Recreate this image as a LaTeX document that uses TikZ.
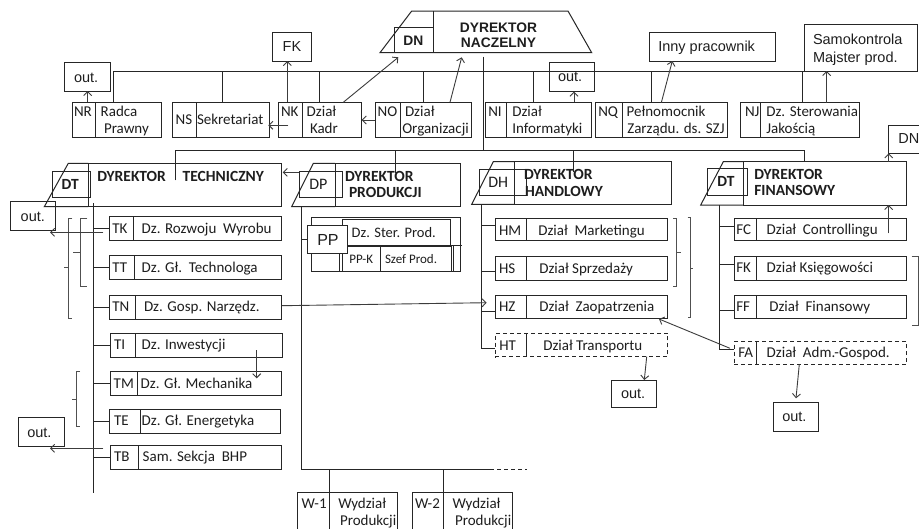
\documentclass[tikz,border=0pt]{standalone}
\usepackage{fontspec}
\setmainfont{Carlito}
\newfontfamily\arialf{Liberation Sans}
\usetikzlibrary{arrows.meta,calc}
\definecolor{linec}{HTML}{262626}
\definecolor{arrc}{HTML}{3C3C3C}
\definecolor{brkc}{HTML}{505050}
\definecolor{txtc}{HTML}{1E1E1E}
\tikzset{
  ln/.style={draw=linec, line width=1pt},
  brk/.style={draw=brkc, line width=0.8pt},
  bx/.style={draw=linec, line width=1pt, rectangle, inner sep=0pt, outer sep=0pt},
  dbx/.style={bx, dash pattern=on 4pt off 3pt},
  wbx/.style={bx, fill=white},
  arr/.style={draw=arrc, line width=0.9pt, -{Straight Barb[length=4pt,width=8pt]}},
  tx/.style={inner sep=0pt, outer sep=0pt, anchor=base west, text=txtc, font=\fontsize{15}{17}\selectfont},
  txm/.style={tx, font=\fontsize{14.5}{17}\selectfont},
  txs/.style={tx, font=\fontsize{13}{15}\selectfont},
  txb/.style={tx, font=\bfseries\fontsize{15.5}{17}\selectfont},
  txd/.style={tx, font=\fontsize{16}{18}\selectfont},
  txa/.style={tx, font=\arialf\fontsize{14.5}{17}\selectfont},
  txp/.style={tx, font=\arialf\fontsize{16}{18}\selectfont},
  txab/.style={tx, font=\arialf\bfseries\fontsize{13.8}{16}\selectfont},
}
\newcommand\ubox[7][bx]{%
  \node[#1, anchor=north west, minimum width=#5pt-#3pt, minimum height=#6pt-#4pt] (#2) at (#3,#4) {};
  \draw[ln] (#7,#4) -- (#7,#6);}
\newcommand\obox[6][bx]{%
  \node[#1, anchor=north west, minimum width=#5pt-#3pt, minimum height=#6pt-#4pt] (#2) at (#3,#4) {};}
\newcommand\tl[5][tx]{\node[#1] (#2) at (#3,#4) {#5};}
\begin{document}
\begin{tikzpicture}[x=1pt,y=-1pt]
\useasboundingbox (0,0) rectangle (919,528);
\fill[white] (0,0) rectangle (919,528);

% ---- Dyrektor Naczelny
\draw[ln] (411.7,11) -- (568,11) -- (591.7,52.7) -- (380,52.7) -- cycle;
\draw[ln] (433.3,11) -- (433.3,52.7);
\obox{DNc}{394.3}{27.7}{433.3}{52.7}
\coordinate (DNbase) at (483.3,52.7);
\tl[txab]{dnct}{403.3}{45}{DN}
\tl[txab,anchor=base]{dna}{498.5}{32.3}{DYREKTOR}
\tl[txab,anchor=base]{dnb}{498.5}{47.7}{NACZELNY}

% ---- staff row
\ubox{NR}{72}{102.3}{161.7}{137.7}{95.7}
\ubox{NS}{172.7}{102.3}{269.3}{137.7}{196}
\ubox{NK}{278.3}{102.3}{361.7}{137.7}{302.3}
\ubox{NO}{375}{102.3}{471}{137.7}{400}
\ubox{NI}{485.7}{102.3}{591.7}{137.7}{506}
\ubox{NQ}{595.7}{102.7}{727.3}{137.7}{622.3}
\ubox{NJ}{740.7}{102.7}{859}{137.7}{760.7}
\obox{onr}{64.3}{62.7}{110}{91}
\obox{FKb}{272.3}{32.3}{311}{61}
\obox{oni}{549.7}{62.3}{594.7}{91.7}
\obox{inny}{649.7}{32.3}{775}{61}
\obox{samo}{804}{24.3}{917}{71}
\obox{DNr}{888.7}{125}{935}{153.3}

\draw[ln] ($(NR.north west)+(41,0)$) |- (samo.south west);
\draw[ln] ($(NS.north west)+(50,0)$) -- ++(0,-31.3);
\draw[ln] ($(NK.north west)+(41,0)$) -- ++(0,-31.3);
\draw[ln] ($(NO.north west)+(48.3,0)$) -- ++(0,-31.3);
\draw[ln] ($(NI.north west)+(47.6,0)$) -- ++(0,-31.3);
\draw[ln] ($(NQ.north west)+(55.6,0)$) -- ++(0,-31.7);
\draw[ln] ($(NJ.north west)+(61.6,0)$) -- ++(0,-31.7);

\tl{nrc}{74}{116}{NR}
\tl{nra}{100.7}{116}{Radca}
\tl{nrb}{104}{133.3}{Prawny}
\tl{nsc}{175.7}{124.3}{NS}
\tl{nsa}{197}{124.3}{Sekretariat}
\tl{nkc}{281}{116}{NK}
\tl{nka}{306.7}{116}{Dział}
\tl{nkb}{310}{133.3}{Kadr}
\tl{noc}{377.7}{116}{NO}
\tl{noa}{405}{116}{Dział}
\tl{nob}{402.3}{133.3}{Organizacji}
\tl{nic}{488.3}{116}{NI}
\tl{nia}{512.3}{116}{Dział}
\tl{nib}{512.3}{133.3}{Informatyki}
\tl{nqc}{598.3}{116}{NQ}
\tl{nqa}{626.7}{116}{Pełnomocnik}
\tl{nqb}{627.3}{133.3}{Zarządu. ds. SZJ}
\tl{njc}{745}{116}{NJ}
\tl{nja}{766.3}{116}{Dz. Sterowania}
\tl{njb}{766.3}{133.3}{Jakością}
\tl[txa]{onrt}{74}{82.7}{out.}
\tl[txa]{fkbt}{282.7}{51.7}{FK}
\tl[txa]{onit}{558}{81}{out.}
\tl[txa]{innyt}{658.3}{51}{Inny pracownik}
\tl[txa]{samoa}{813}{44.3}{Samokontrola}
\tl[txa]{samob}{813}{62.7}{Majster prod.}
\tl[txa]{dnrt}{898.3}{143.3}{DN}

% ---- directors
\obox{DTbody}{88.3}{163.3}{281.7}{206.7}
\draw[ln] (DTbody.north west) -- (68.3,163.3) -- (44.3,206.7) -- (DTbody.south west);
\obox{DTcode}{52.3}{171}{90}{197.7}
\obox{DPbody}{335}{163.3}{460}{206.7}
\draw[ln] (DPbody.north west) -- (313.3,163.3) -- (291.7,206.7) -- (DPbody.south west);
\obox{DPcode}{299}{171}{342.3}{197.7}
\obox{DHbody}{514.3}{161.7}{671.7}{204.3}
\draw[ln] (DHbody.north west) -- (493.3,161.7) -- (471.7,204.3) -- (DHbody.south west);
\obox{DHcode}{479}{169}{526.7}{195}
\obox{DFbody}{743.3}{161.7}{906.7}{205}
\draw[ln] (DFbody.north west) -- (723.3,161.7) -- (700.7,205) -- (DFbody.south west);
\obox{DFcode}{707.7}{168.3}{747.3}{195.7}

\coordinate (dbusL) at (175,150);
\draw[ln] ($(DNbase)+(0,4)$) -- (DNbase |- dbusL);
\draw[ln] ($(DTbody.north west)+(86.7,17)$) |- ($(DFbody.north west)+(60.7,-11.7)$) -- ($(DFbody.north west)+(60.7,0)$);
\draw[ln] ($(DPbody.north west)+(60,-13.3)$) -- ++(0,23.3);
\draw[ln] ($(DHbody.north west)+(59,-11.7)$) -- ++(0,21.7);

\tl[txb]{dtc}{61.7}{189.3}{DT}
\tl[txb]{dta}{97.3}{181.7}{DYREKTOR}
\tl[txb]{dtb}{182.7}{181.7}{TECHNICZNY}
\tl[txd]{dpc}{309.3}{189}{DP}
\tl[txb]{dpa}{345}{181.7}{DYREKTOR}
\tl[txb]{dpb}{349}{197.3}{PRODUKCJI}
\tl[txd]{dhc}{488.3}{187.3}{DH}
\tl[txb]{dha}{524}{179.3}{DYREKTOR}
\tl[txb]{dhb}{525}{196}{HANDLOWY}
\tl[txb]{dfc}{717.3}{186.7}{DT}
\tl[txb]{dfa}{754.3}{179.3}{DYREKTOR}
\tl[txb]{dfb}{754.3}{195.7}{FINANSOWY}

% ---- technical
\ubox{TK}{109.3}{216.7}{281.7}{240}{133.3}
\ubox{TT}{109.3}{255.7}{281.7}{279}{134.3}
\ubox{TN}{109.3}{295}{281.7}{319}{135}
\ubox{TI}{110}{333.3}{282.3}{357.3}{135.7}
\ubox{TM}{110}{371.7}{281.7}{395}{137.3}
\ubox{TE}{109}{409.3}{280}{433.3}{140}
\ubox{TB}{110}{445.7}{281.7}{469}{138.3}
\coordinate (Tend) at (93.3,493.3);
\draw[ln] ($(DTbody.south west)+(5,-3.4)$) -- (Tend);
\foreach \n in {TK,TT,TN,TI,TM,TE,TB} \draw[ln] (\n.west) -- (\n.west -| Tend);
\obox{outA}{10}{201.7}{55}{230.7}
\obox{outB}{18.3}{417.7}{64}{446.7}

\tl{tkc}{112.3}{233.3}{TK}
\tl{tkt}{141.7}{233.3}{Dz. Rozwoju\ \ Wyrobu}
\tl{ttc}{112.3}{272.3}{TT}
\tl{ttt}{141.7}{272.3}{Dz. Gł.\ \ Technologa}
\tl{tnc}{112.3}{311}{TN}
\tl{tnt}{144}{311}{Dz. Gosp. Narzędz.}
\tl{tic}{114}{349.3}{TI}
\tl{tit}{141.7}{349.3}{Dz. Inwestycji}
\tl{tmc}{113.7}{388.3}{TM}
\tl{tmt}{140.7}{388.3}{Dz. Gł. Mechanika}
\tl{tec}{114}{425.7}{TE}
\tl{tet}{141.7}{425.7}{Dz. Gł. Energetyka}
\tl{tbc}{114}{461.7}{TB}
\tl{tbt}{142.7}{461.7}{Sam. Sekcja\ \ BHP}
\tl[txa]{outAt}{20.7}{221}{out.}
\tl[txa]{outBt}{27.3}{437.3}{out.}

% ---- production
\obox{PPg}{311}{217.3}{460.3}{271.7}
\obox{PPs}{342.3}{219.3}{450}{246.7}
\obox{PPk}{342.3}{246.7}{380}{271.7}
\obox{PPf}{380}{246.7}{451.7}{271.7}
\draw[ln] (339,245) -- (461.7,245);
\draw[ln] (339,245) -- (339,271.7);
\draw[ln] (453.5,245) -- (453.5,271.7);
\obox[wbx]{PP}{307.3}{225}{347.3}{253.3}
\coordinate (DPtop) at ($(DPbody.south west)+(-33.3,0)$);
\coordinate (Wsol) at (490,469);
\draw[ln] (DPtop) |- (Wsol);
\draw[ln, dash pattern=on 4pt off 3pt] (Wsol) -- ++(37,0);
\draw[ln] (PP.west -| DPtop) -- (PP.west);
\ubox{Wa}{297.7}{492.7}{397.7}{540}{329}
\ubox{Wb}{412.7}{492.7}{512.3}{540}{443.3}
\draw[ln] ($(Wa.north west)+(31.3,0)$) -- ++(0,-23.7);
\draw[ln] ($(Wb.north west)+(30.6,0)$) -- ++(0,-23.7);

\tl[txp]{ppt}{317.3}{245}{PP}
\tl[txm]{ppst}{351.7}{237.7}{Dz. Ster. Prod.}
\tl[txs]{ppkt}{349.3}{263.3}{PP-K}
\tl[txs]{ppft}{385}{263.3}{Szef Prod.}
\tl{w1c}{301.7}{508.3}{W-1}
\tl{w1a}{338.3}{508.3}{Wydział}
\tl{w1b}{340}{525.3}{Produkcji}
\tl{w2c}{415}{508.3}{W-2}
\tl{w2a}{452.7}{508.3}{Wydział}
\tl{w2b}{455}{525.3}{Produkcji}

% ---- commercial
\ubox{HM}{495}{218.3}{667.7}{240.7}{526}
\ubox{HS}{495}{256.3}{667.7}{280}{526}
\ubox{HZ}{495}{295.3}{667.7}{318.3}{526}
\ubox[dbx]{HT}{495}{333.3}{667.7}{356.7}{526}
\draw[ln] ($(DHbody.south west)+(-33.3,0)$) |- ($(HT.west)+(0,3)$);
\draw[ln] ($(HM.west)+(0,-4.5)$) -- ++(-14,0);
\draw[ln] ($(HS.west)+(0,3.5)$) -- ++(-14,0);
\draw[ln] ($(HZ.west)+(0,4.2)$) -- ++(-14,0);
\obox{oht}{611}{380}{656.7}{407.3}

\tl{hmc}{499}{235}{HM}
\tl{hmt}{538.3}{235}{Dział\ \ Marketingu}
\tl{hsc}{499}{273.3}{HS}
\tl{hst}{539.3}{273.3}{Dział Sprzedaży}
\tl{hzc}{499}{311.7}{HZ}
\tl{hzt}{539.3}{311.7}{Dział\ \ Zaopatrzenia}
\tl{htc}{499.3}{350.7}{HT}
\tl{htt}{543.3}{350.7}{Dział Transportu}
\tl[txa]{ohtt}{621}{398.3}{out.}

% ---- financial
\ubox{FC}{734}{218.3}{906.7}{240.7}{756.7}
\ubox{FK}{734}{256.7}{906.7}{280}{756.7}
\ubox{FF}{734}{295}{906.7}{318.3}{756.7}
\ubox[dbx]{FA}{734}{341.7}{906.7}{364.3}{756}
\draw[ln] ($(DFbody.south west)+(-24,0)$) |- ($(FA.west)+(0,-4)$);
\draw[ln] ($(FC.west)+(0,-3.5)$) -- ++(-14.7,0);
\draw[ln] ($(FK.west)+(0,-4)$) -- ++(-14.7,0);
\draw[ln] ($(FF.west)+(0,4)$) -- ++(-14.7,0);
\obox{ofa}{773.3}{402.7}{818.3}{431}

\tl{fcc}{736.3}{234.3}{FC}
\tl{fct}{766.7}{234.3}{Dział\ \ Controllingu}
\tl{fkc}{736.3}{272.7}{FK}
\tl{fkt}{766.7}{272.7}{Dział Księgowości}
\tl{ffc}{736.3}{311}{FF}
\tl{fft}{769.3}{311}{Dział\ \ Finansowy}
\tl{fac}{738.3}{357.3}{FA}
\tl{fat}{766.7}{357.3}{Dział\ \ Adm.-Gospod.}
\tl[txa]{ofat}{782.3}{421.7}{out.}

% ---- brackets
\draw[brk] (87.3,218.3) -- (80,218.3) -- (80,286) -- (87.3,286) (80,252.3) -- (73.3,252.3);
\draw[brk] (72.3,218.3) -- (68.3,218.3) -- (68.3,318.3) -- (72.3,318.3) (68.3,267.7) -- (64,267.7);
\draw[brk] (80,371.7) -- (76.7,371.7) -- (76.7,426) -- (80,426) (76.7,399) -- (71.7,399);
\draw[brk] (673.3,218.3) -- (676.7,218.3) -- (676.7,286.7) -- (673.3,286.7) (676.7,252.3) -- (680.7,252.3);
\draw[brk] (687.7,217.3) -- (690,217.3) -- (690,317.7) -- (687.7,317.7) (690,268.3) -- (693.3,268.3);
\draw[brk] (911.7,256.7) -- (918.3,256.7) -- (918.3,325) -- (911.7,325);

% ---- arrows
\draw[arr] ($(NR.north west)+(15.7,0)$) -- ($(onr.south west)+(23.4,0)$);
\draw[arr] ($(NK.north west)+(9,0)$) -- ($(FKb.south west)+(15,0)$);
\draw[arr] ($(NK.north west)+(65,0)$) -- ($(DNc.south west)+(4,4.6)$);
\draw[arr] ($(NO.north west)+(75,0)$) -- ($(DNc.south east)+(28.4,4.6)$);
\draw[arr] (NO.west) -- (NK.east);
\draw[arr] ($(NK.west)+(10,5.3)$) -- ($(NS.east)+(-1,5.3)$);
\draw[arr] ($(NI.north west)+(88.3,0)$) -- ($(oni.south west)+(24.3,0)$);
\draw[arr] ($(NQ.north west)+(65.6,0)$) -- ($(inny.south west)+(22.6,0)$);
\draw[arr] ($(NJ.north west)+(86,0)$) -- ($(samo.south west)+(22.7,0)$);
\draw[arr] ($(DPcode.west)+(0,-12)$) -- ++(-16.3,0);
\draw[arr] ($(TN.east)+(0,-1.3)$) -- ($(HZ.west)+(-8.3,-4.1)$);
\draw[arr] ($(TI.south west)+(146.7,-7.3)$) -- ($(TM.north west)+(146.7,6.6)$);
\draw[arr] ($(HT.south west)+(151.7,0)$) -- ($(oht.north west)+(33.3,0)$);
\draw[arr] ($(FA.west)+(-4,-4.7)$) -- ($(HZ.south east)+(-8.7,0.7)$);
\draw[arr] ($(FA.south west)+(65.3,0)$) -- ($(ofa.north west)+(22.7,-4.4)$);
\draw[arr] ($(FC.north west)+(154.7,15)$) -- ($(DFbody.south west)+(145.4,0)$);
\draw[arr] ($(DFbody.north west)+(145.4,0)$) -- (DNr.south west);
\draw[arr] ($(TK.west)+(-6,4)$) -- ++(-53.3,0);
\draw[arr] ($(TB.west)+(-6.7,-9)$) -- ++(-53.3,0);
\end{tikzpicture}
\end{document}
